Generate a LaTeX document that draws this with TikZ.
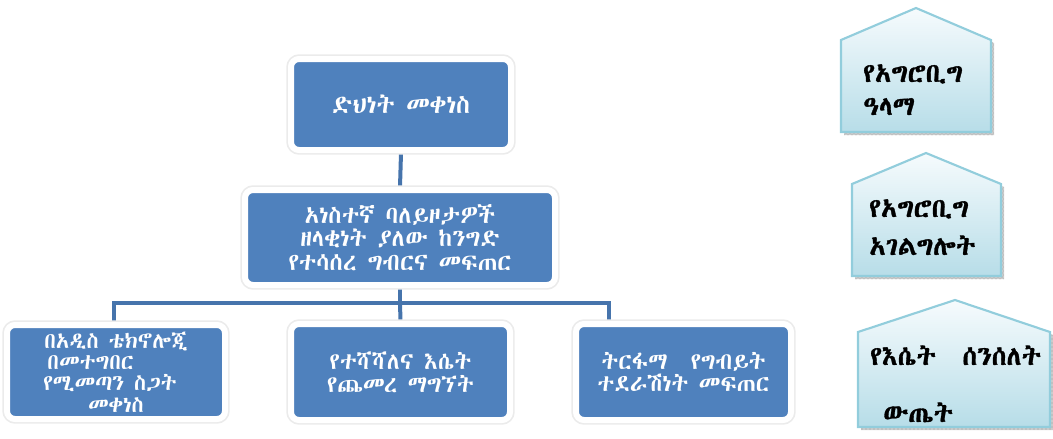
\documentclass[tikz,border=0pt]{standalone}
\usepackage{fontspec}
\usetikzlibrary{patterns,backgrounds}
\suppressfontnotfounderror=1
\font\ftA="Abyssinica SIL" at 10pt
\font\ftB="[FreeSerif.otf]" at 10pt
\font\ftC="Noto Sans Ethiopic" at 10pt
\suppressfontnotfounderror=0
\def\ethspec{DejaVu Sans}
\ifx\ftC\nullfont\else\def\ethspec{Noto Sans Ethiopic}\fi
\ifx\ftB\nullfont\else\def\ethspec{FreeSerif.otf}\fi
\ifx\ftA\nullfont\else\def\ethspec{Abyssinica SIL}\fi
\expandafter\newfontfamily\expandafter\ethfont\expandafter{\ethspec}
\expandafter\newfontfamily\expandafter\ethbold\expandafter{\ethspec}[FakeBold=1.2]
\definecolor{boxblue}{RGB}{79,129,189}
\definecolor{linkblue}{RGB}{70,116,172}
\definecolor{penedge}{RGB}{146,205,220}
\definecolor{penbot}{RGB}{183,221,232}
\definecolor{pentop}{RGB}{246,251,253}
\newcommand\pxu{0.75pt}
\begin{document}
\begin{tikzpicture}[x=0.75pt,y=-0.75pt,
  bluebox/.style={fill=boxblue, draw=white, line width=4.5pt, rounded corners=6pt,
    text=white, align=center, inner sep=0pt,
    preaction={draw=black!8, line width=7pt},
    font=\ethfont\fontsize{19}{17}\selectfont},
  link/.style={draw=linkblue, line width=3pt},
  pentext/.style={anchor=base west, inner sep=0pt, font=\ethbold\fontsize{20}{20}\selectfont},
  penshadow/.style={fill=gray!40, postaction={pattern=crosshatch dots, pattern color=gray!80}},
  penshade/.style={top color=pentop, bottom color=penbot},
  penline/.style={draw=penedge, line width=1.6pt, line join=miter}]
\useasboundingbox (0,0) rectangle (1053,439);

% boxes
\node[bluebox, minimum width=220*\pxu, minimum height=91*\pxu] (b1) at (401,104.5) {ድህነት መቀነስ};
\node[bluebox, minimum width=310*\pxu, minimum height=95*\pxu,
  font=\ethfont\fontsize{18}{17.5}\selectfont] (b2) at (400,237.5)
  {አነስተኛ ባለይዞታዎች\\ዘላቂነት ያለው ከንግድ\\የተሳሰረ ግብርና መፍጠር};
\node[bluebox, minimum width=218*\pxu, minimum height=94*\pxu,
  font=\ethfont\fontsize{16.5}{16}\selectfont] (b3) at (116,372)
  {በአዲስ ቴክኖሎጂ\\በመተግበር\rule{38pt}{0pt}\\የሚመጣን ስጋት\rule{9pt}{0pt}\\መቀነስ};
\node[bluebox, minimum width=219*\pxu, minimum height=96*\pxu,
  font=\ethfont\fontsize{17.5}{17}\selectfont] (b4) at (400.5,372)
  {የተሻሻለና እሴት\\የጨመረ ማግኘት};
\node[bluebox, minimum width=215*\pxu, minimum height=96*\pxu,
  font=\ethfont\fontsize{17.5}{17}\selectfont] (b5) at (683.5,372)
  {ትርፋማ\quad የግብይት\\ተደራሽነት መፍጠር};

% connectors
\coordinate (j) at (400,303);
\coordinate (hl) at (114,303);
\coordinate (hr) at (609,303);
\begin{scope}[on background layer]
\draw[link] (b1.south) -- (b2.north);
\draw[link] (b2.south) -- (j);
\draw[link] (j) -- (b4.north);
\draw[link] (hl |- b3.north) -- (hl) -- (hr) -- (hr |- b5.north);
\end{scope}

% pentagons
\fill[penshadow, shift={(3,3)}] (841,40) -- (916,8) -- (991,40) -- (991,132) -- (841,132) -- cycle;
\shade[penshade] (841,40) -- (916,8) -- (991,40) -- (991,132) -- (841,132) -- cycle;
\draw[penline] (841,40) -- (916,8) -- (991,40) -- (991,132) -- (841,132) -- cycle;

\fill[penshadow, shift={(3,3)}] (852,184) -- (926,153) -- (1001,184) -- (1001,276) -- (852,276) -- cycle;
\shade[penshade] (852,184) -- (926,153) -- (1001,184) -- (1001,276) -- (852,276) -- cycle;
\draw[penline] (852,184) -- (926,153) -- (1001,184) -- (1001,276) -- (852,276) -- cycle;

\fill[penshadow, shift={(3,3)}] (858,332) -- (955,300) -- (1050,332) -- (1050,427) -- (858,427) -- cycle;
\shade[penshade] (858,332) -- (955,300) -- (1050,332) -- (1050,427) -- (858,427) -- cycle;
\draw[penline] (858,332) -- (955,300) -- (1050,332) -- (1050,427) -- (858,427) -- cycle;

\node[pentext] (p1a) at (863,82) {የአግሮቢግ};
\node[pentext] (p1b) at (863,115) {ዓላማ};
\node[pentext] (p2a) at (869,217) {የአግሮቢግ};
\node[pentext] (p2b) at (869,255) {አገልግሎት};
\node[pentext] (p3a) at (870,365) {የእሴት\quad ሰንሰለት};
\node[pentext] (p3b) at (883,422) {ውጤት};
\end{tikzpicture}
\end{document}
